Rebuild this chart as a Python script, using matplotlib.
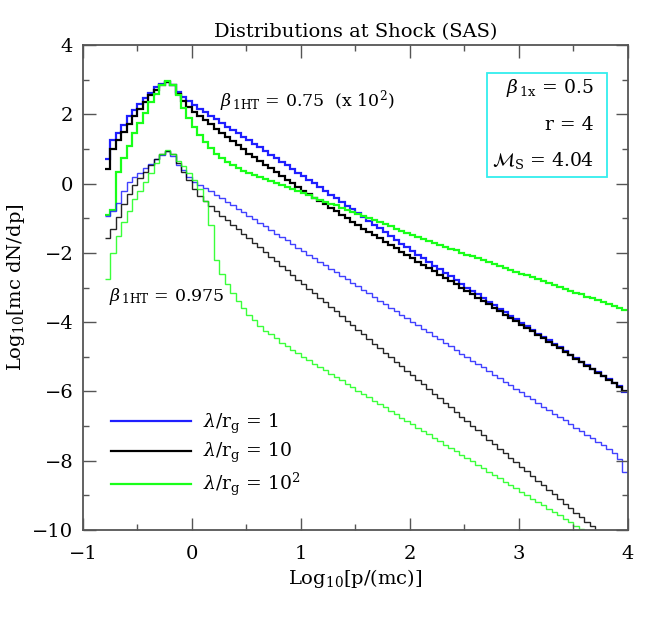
import numpy as np
import matplotlib
matplotlib.use("Agg")
import matplotlib.pyplot as plt
from matplotlib.patches import Rectangle
from matplotlib.ticker import MultipleLocator

plt.rcParams['font.family'] = ['DejaVu Serif']
plt.rcParams['mathtext.fontset'] = 'dejavuserif'

# bin edges in log10(p/mc)
edges = np.round(np.arange(-0.8, 4.0001, 0.05), 3)

# beta_1HT = 0.75 (scaled x 10^2)
upper_blue = [0.72, 1.25, 1.45, 1.70, 1.95, 2.12, 2.30, 2.48, 2.62, 2.78, 2.88, 2.95,
              2.85, 2.65, 2.50, 2.38, 2.27, 2.17, 2.06, 1.96, 1.86, 1.75, 1.65, 1.56, 1.46, 1.36, 1.26,
              1.16, 1.05, 0.95, 0.84, 0.74, 0.64, 0.53, 0.43, 0.32, 0.22,
              0.11, 0.01, -0.10, -0.21, -0.32, -0.42, -0.53, -0.64, -0.74, -0.85,
              -0.96, -1.07, -1.18, -1.29, -1.40, -1.51, -1.62, -1.73, -1.84, -1.95,
              -2.05, -2.16, -2.26, -2.37, -2.47, -2.58, -2.68, -2.79, -2.89, -3.00,
              -3.10, -3.20, -3.31, -3.41, -3.51, -3.61, -3.71, -3.82, -3.92, -4.02,
              -4.12, -4.22, -4.33, -4.43, -4.53, -4.63, -4.73, -4.84, -4.94, -5.04,
              -5.14, -5.24, -5.34, -5.45, -5.55, -5.65, -5.75, -5.85, -6.02]
upper_black = [0.42, 1.00, 1.25, 1.50, 1.72, 1.95, 2.15, 2.35, 2.55, 2.72, 2.85, 2.95,
               2.85, 2.60, 2.40, 2.22, 2.08, 1.95, 1.83, 1.71, 1.59, 1.47, 1.35, 1.23, 1.11, 0.99, 0.87,
               0.76, 0.66, 0.55, 0.44, 0.34, 0.23, 0.12, 0.01, -0.09, -0.20,
               -0.30, -0.40, -0.50, -0.60, -0.70, -0.80, -0.90, -1.00, -1.10, -1.20,
               -1.30, -1.39, -1.49, -1.58, -1.68, -1.77, -1.87, -1.96, -2.06, -2.15,
               -2.25, -2.34, -2.44, -2.53, -2.63, -2.72, -2.82, -2.91, -3.01, -3.10,
               -3.20, -3.29, -3.39, -3.49, -3.59, -3.68, -3.78, -3.88, -3.97, -4.07,
               -4.17, -4.27, -4.37, -4.46, -4.56, -4.66, -4.76, -4.86, -4.96, -5.06,
               -5.16, -5.26, -5.36, -5.46, -5.56, -5.66, -5.76, -5.86, -6.00]
upper_green = [-0.90, -0.75, 0.35, 0.75, 1.10, 1.45, 1.75, 2.05, 2.35, 2.60, 2.85, 2.97,
               2.85, 2.55, 2.20, 1.90, 1.64, 1.40, 1.20, 1.02, 0.87, 0.74, 0.63, 0.53, 0.45, 0.37, 0.30,
               0.24, 0.18, 0.13, 0.07, 0.01, -0.05, -0.11, -0.16, -0.22, -0.28,
               -0.34, -0.40, -0.46, -0.52, -0.58, -0.63, -0.69, -0.75, -0.81, -0.87,
               -0.93, -0.99, -1.05, -1.11, -1.17, -1.23, -1.30, -1.36, -1.42, -1.48,
               -1.54, -1.59, -1.65, -1.71, -1.76, -1.82, -1.88, -1.93, -1.99, -2.05,
               -2.10, -2.16, -2.21, -2.27, -2.32, -2.38, -2.43, -2.49, -2.54, -2.60,
               -2.65, -2.71, -2.76, -2.82, -2.87, -2.93, -2.98, -3.04, -3.09, -3.15,
               -3.20, -3.26, -3.31, -3.37, -3.42, -3.48, -3.53, -3.59, -3.66]

# beta_1HT = 0.975
lower_blue = [-0.93, -0.80, -0.55, -0.20, 0.05, 0.20, 0.32, 0.45, 0.58, 0.72, 0.83, 0.95,
              0.80, 0.55, 0.40, 0.20, 0.05, -0.05, -0.13, -0.22, -0.32, -0.42, -0.52,
              -0.62, -0.72, -0.83, -0.93, -1.03, -1.13, -1.23, -1.34, -1.44, -1.54, -1.64, -1.74, -1.85, -1.95,
              -2.05, -2.15, -2.25, -2.36, -2.46, -2.56, -2.66, -2.76, -2.87, -2.97,
              -3.07, -3.17, -3.27, -3.38, -3.48, -3.58, -3.68, -3.78, -3.89, -3.99,
              -4.09, -4.19, -4.29, -4.40, -4.50, -4.60, -4.70, -4.80, -4.91, -5.01,
              -5.11, -5.21, -5.31, -5.42, -5.52, -5.62, -5.72, -5.82, -5.93, -6.03,
              -6.13, -6.23, -6.33, -6.44, -6.54, -6.64, -6.74, -6.84, -6.95, -7.05,
              -7.15, -7.25, -7.35, -7.46, -7.56, -7.66, -7.78, -7.96, -8.33]
lower_black = [-1.58, -1.30, -0.95, -0.60, -0.30, -0.05, 0.15, 0.35, 0.55, 0.72, 0.85, 0.95,
               0.85, 0.60, 0.35, 0.10, -0.15, -0.35, -0.50, -0.65, -0.80, -0.92, -1.05,
               -1.18, -1.31, -1.45, -1.58, -1.71, -1.84, -1.98, -2.11, -2.24, -2.37, -2.50, -2.64, -2.77, -2.90,
               -3.03, -3.16, -3.30, -3.43, -3.56, -3.69, -3.82, -3.96, -4.09, -4.22,
               -4.35, -4.48, -4.62, -4.75, -4.88, -5.01, -5.14, -5.28, -5.41, -5.54,
               -5.67, -5.80, -5.94, -6.07, -6.20, -6.33, -6.46, -6.60, -6.73, -6.86,
               -6.99, -7.12, -7.26, -7.39, -7.52, -7.65, -7.78, -7.92, -8.05, -8.18,
               -8.31, -8.44, -8.58, -8.71, -8.84, -8.97, -9.10, -9.24, -9.37, -9.50,
               -9.63, -9.76, -9.90, -10.03, -10.16, -10.29, -10.42, -10.56, -10.69]
lower_green = [-2.75, -2.00, -1.50, -1.10, -0.78, -0.45, -0.20, 0.05, 0.30, 0.60, 0.85, 0.97,
               0.85, 0.65, 0.50, 0.30, 0.10, -0.15, -0.50, -1.20, -2.20, -2.60, -2.90,
               -3.15, -3.40, -3.60, -3.80, -3.95, -4.10, -4.25, -4.35, -4.45, -4.60, -4.70, -4.80, -4.90, -5.00,
               -5.10, -5.20, -5.29, -5.39, -5.49, -5.59, -5.68, -5.78, -5.88, -5.98,
               -6.07, -6.17, -6.27, -6.37, -6.46, -6.56, -6.66, -6.76, -6.85, -6.95,
               -7.05, -7.15, -7.24, -7.34, -7.44, -7.54, -7.63, -7.73, -7.83, -7.93,
               -8.02, -8.12, -8.22, -8.32, -8.41, -8.51, -8.61, -8.71, -8.80, -8.90,
               -9.00, -9.10, -9.19, -9.29, -9.39, -9.49, -9.58, -9.68, -9.78, -9.88,
               -9.97, -10.07, -10.17, -10.26, -10.36, -10.46, -10.56, -10.65, -10.75]

labels = [r'$\lambda/\mathrm{r_g}$ = 1', r'$\lambda/\mathrm{r_g}$ = 10', r'$\lambda/\mathrm{r_g}$ = 10$^2$']
colors = ['#1f1fff', '#000000', '#19ff19']

fig = plt.figure(figsize=(6.48, 6.19), dpi=100)
ax = fig.add_axes([0.128, 0.144, 0.841, 0.783])

for vals, c, lab in zip([upper_blue, upper_black, upper_green], colors, labels):
    ax.stairs(vals, edges, baseline=None, color=c, lw=1.6, label=lab)
for vals, c in zip([lower_blue, lower_black, lower_green], colors):
    ax.stairs(vals, edges, baseline=None, color=c, lw=1.0, alpha=0.85)

ax.set_xlim(-1, 4)
ax.set_ylim(-10, 4)
ax.xaxis.set_major_locator(MultipleLocator(1))
ax.xaxis.set_minor_locator(MultipleLocator(0.5))
ax.yaxis.set_major_locator(MultipleLocator(2))
ax.yaxis.set_minor_locator(MultipleLocator(1))
ax.tick_params(which='both', direction='in', top=True, right=True, color='#555555', labelsize=14)
ax.tick_params(axis='x', pad=11)
ax.tick_params(axis='y', pad=7)
ax.tick_params(which='major', length=9, width=1.0)
ax.tick_params(which='minor', length=4.5, width=1.0)
for s in ax.spines.values():
    s.set_color('#555555')
    s.set_linewidth(1.3)

ax.set_title('Distributions at Shock (SAS)', fontsize=14, pad=6)
ax.set_xlabel(r'Log$_{10}$[p/(mc)]', fontsize=14, labelpad=3)
ax.set_ylabel(r'Log$_{10}$[mc dN/dp]', fontsize=14, labelpad=4)

ax.text(0.26, 2.38, r'$\beta_{\,\mathrm{1HT}}$ = 0.75  (x 10$^2$)', fontsize=12.5, va='center', ha='left')
ax.text(-0.76, -3.27, r'$\beta_{\,\mathrm{1HT}}$ = 0.975', fontsize=12.5, va='center', ha='left')

ax.add_patch(Rectangle((0.741, 0.728), 0.220, 0.215, transform=ax.transAxes,
                       fill=False, edgecolor='#33eeee', lw=1.3))
ax.text(0.938, 0.911, r'$\beta_{\,\mathrm{1x}}$ = 0.5', transform=ax.transAxes, fontsize=13.5, ha='right', va='center')
ax.text(0.938, 0.835, 'r = 4', transform=ax.transAxes, fontsize=13.5, ha='right', va='center')
ax.text(0.938, 0.763, r'$\mathcal{M}_\mathrm{S}$ = 4.04', transform=ax.transAxes, fontsize=13.5, ha='right', va='center')

ax.legend(loc='lower left', bbox_to_anchor=(0.02, 0.03), frameon=False, fontsize=13.5,
          handlelength=4.3, handletextpad=0.6, labelspacing=0.3)

fig.savefig('out.png', dpi=100)
